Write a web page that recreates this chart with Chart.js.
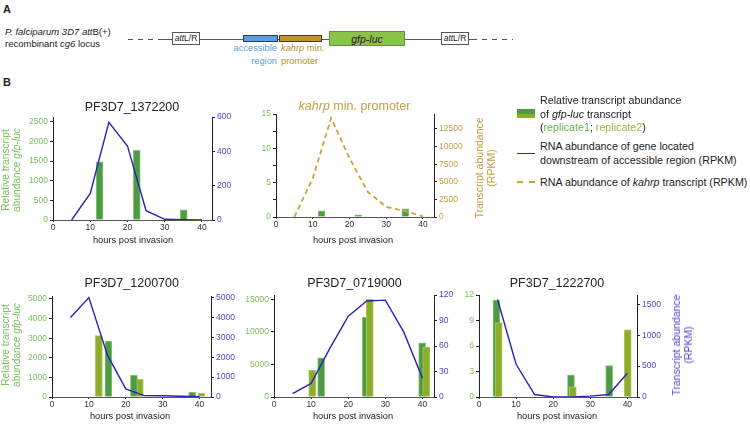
<!DOCTYPE html>
<html><head><meta charset="utf-8">
<script src="https://cdn.jsdelivr.net/npm/chart.js@4.4.0/dist/chart.umd.min.js"></script>
<style>
html,body{margin:0;padding:0;background:#fff}
#fig{position:relative;width:750px;height:424px;overflow:hidden;font-family:"Liberation Sans",Arial,sans-serif;color:#222}
.t{position:absolute;white-space:nowrap;line-height:1}
.bx{position:absolute;box-sizing:border-box}
canvas{position:absolute}
</style></head><body><div id="fig"></div>
<script>
// ---- data ----
const HPI=[5,10,15,20,25,30,35,40];            // RNA-seq time points (hpi)
const X_TICKS=[0,10,20,30,40];

// PF3D7_1372200
const RNA_1372200=[0,155,569,431,54,4,2,0];
const G1X_1372200=[12.5,22.5,35.1], G1_1372200=[1480,1770,260];
const L_TICKS_1372200=[0,500,1000,1500,2000,2500], R_TICKS_1372200=[0,200,400,600];

// kahrp min. promoter
const RNA_KAHRP=[0,5490,14060,8340,3570,1430,860,100];
const G1X_KAHRP=[12.4,22.4,35.2], G1_KAHRP=[0.9,0.3,1.2];
const L_TICKS_KAHRP=[0,2.5,5,7.5,10,12.5,15], L_LABELS_KAHRP=[0,5,10,15];
const R_TICKS_KAHRP=[0,2500,5000,7500,10000,12500];

// PF3D7_1200700
const RNA_1200700=[4000,5000,2120,410,70,60,40,20];
const G1X_1200700=[15.3,22.2,38.0], G1_1200700=[2850,1120,254];
const G2X_1200700=[12.7,23.8,40.5], G2_1200700=[3130,900,205];
const L_TICKS_1200700=[0,1000,2000,3000,4000,5000], R_TICKS_1200700=[0,1000,2000,3000,4000,5000];

// PF3D7_0719000
const RNA_0719000=[4,16,57,95,113,114,76,22];
const G1X_0719000=[12.7,24.7,39.9], G1_0719000=[6000,12270,8320];
const G2X_0719000=[10.3,25.8,41.0], G2_0719000=[4150,15000,7650];
const L_TICKS_0719000=[0,5000,10000,15000], R_TICKS_0719000=[0,30,60,90,120];

// PF3D7_1222700
const RNA_1222700=[1580,530,40,0,2,15,40,385];
const G1X_1222700=[4.7,24.8,35.1], G1_1222700=[11.4,2.6,3.7];
const G2X_1222700=[5.3,25.3,40.1], G2_1222700=[8.75,1.2,7.9];
const L_TICKS_1222700=[0,3,6,9,12], R_TICKS_1222700=[0,500,1000,1500];

// ---- colours ----
const C_REP1="#4f9a46",C_REP2="#8cad2c",C_GTXT="#78bf5c",C_BLUE="#2b22b8",C_BTXT="#5244cf",C_GOLD="#c9a23c",C_GOLDTXT="#c3a046";
const FF='"Liberation Sans",Arial,sans-serif';
const LW=34,RW=36,TP=8,BH=18;
const fig=document.getElementById("fig");

function put(html,x,y,o={}){
  const d=document.createElement("div");d.className="t";d.innerHTML=html;
  d.style.left=x+"px";d.style.top=y+"px";
  const ax=o.a==="l"?"0":o.a==="r"?"-100%":"-50%";
  d.style.transform=`translate(${ax},-50%)`+(o.rot?" rotate(-90deg)":"");
  d.style.fontSize=(o.fs||10)+"px";
  if(o.c)d.style.color=o.c;
  if(o.lh){d.style.lineHeight=o.lh+"px";d.style.textAlign="center"}
  if(o.b)d.style.fontWeight="bold";
  if(o.i)d.style.fontStyle="italic";
  fig.appendChild(d);
}
function box(x,y,w,h,css){const d=document.createElement("div");d.className="bx";
  Object.assign(d.style,{left:x+"px",top:y+"px",width:w+"px",height:h+"px"},css);fig.appendChild(d);}

function panel(p){
  const W=p.R-p.L+LW+RW,H=p.B-p.T+TP+BH;
  const cv=document.createElement("canvas");cv.width=W;cv.height=H;
  cv.style.left=(p.L-LW)+"px";cv.style.top=(p.T-TP)+"px";fig.appendChild(cv);
  const ds=[{type:"line",data:HPI.map((x,i)=>({x,y:p.rna[i]})),yAxisID:"y2",borderColor:p.lc,
    borderWidth:p.dash?1.8:1.4,borderDash:p.dash||[],pointRadius:0,tension:0,order:0}];
  p.bars.forEach(b=>ds.push({type:"bar",data:b.x.map((x,i)=>({x,y:b.y[i]})),yAxisID:"y",
    backgroundColor:b.c,borderColor:b.e,borderWidth:1,barThickness:7,grouped:false,order:b.o}));
  const fnt={size:8.5,family:FF};
  const yax=(pos,max,ticks,labels,col,w)=>({type:"linear",position:pos,min:0,max:max,
    afterBuildTicks:s=>{s.ticks=ticks.map(v=>({value:v}))},
    afterFit:s=>{s.width=w},
    ticks:{color:col,font:fnt,padding:2,autoSkip:false,callback:v=>labels.includes(v)?String(v):""},
    grid:{display:true,drawOnChartArea:false,tickLength:3,color:"#222"},border:{color:"#222",width:1}});
  new Chart(cv,{type:"bar",data:{datasets:ds},options:{
    responsive:false,animation:false,devicePixelRatio:1,
    layout:{padding:{top:TP,left:0,right:0,bottom:0}},
    plugins:{legend:{display:false},tooltip:{enabled:false}},
    scales:{
      x:{type:"linear",min:0,max:p.xmax,offset:false,
        afterBuildTicks:s=>{s.ticks=X_TICKS.map(v=>({value:v}))},afterFit:s=>{s.height=BH},
        ticks:{color:"#333",font:fnt,padding:1,maxRotation:0,autoSkip:false,callback:v=>String(v)},
        grid:{display:true,drawOnChartArea:false,offset:false,tickLength:2,color:"#333"},border:{color:"#555",width:1}},
      y:yax("left",p.ymax,p.lt,p.ll||p.lt,C_GTXT,LW),
      y2:yax("right",p.y2max,p.rt,p.rt,p.rc,RW)
    }}});
}

const rep1=(x,y,o)=>({x,y,c:C_REP1,e:"#8fc777",o:o||2});
const rep2=(x,y,o)=>({x,y,c:C_REP2,e:"#aac75a",o:o||1});

panel({L:53,R:212,T:117,B:220,xmax:42.7,ymax:2620,y2max:600,lt:L_TICKS_1372200,rt:R_TICKS_1372200,rc:C_BTXT,
  rna:RNA_1372200,lc:C_BLUE,bars:[rep1(G1X_1372200,G1_1372200)]});
panel({L:276,R:434,T:114,B:217,xmax:43.0,ymax:15,y2max:14630,lt:L_TICKS_KAHRP,ll:L_LABELS_KAHRP,rt:R_TICKS_KAHRP,rc:C_GOLDTXT,
  rna:RNA_KAHRP,lc:C_GOLD,dash:[5,3.5],bars:[rep1(G1X_KAHRP,G1_KAHRP)]});
panel({L:52,R:211,T:296,B:397,xmax:43.1,ymax:5150,y2max:5080,lt:L_TICKS_1200700,rt:R_TICKS_1200700,rc:C_BTXT,
  rna:RNA_1200700,lc:C_BLUE,bars:[rep1(G1X_1200700,G1_1200700,1),rep2(G2X_1200700,G2_1200700,2)]});
panel({L:274,R:434,T:295,B:397,xmax:43.1,ymax:15660,y2max:120,lt:L_TICKS_0719000,rt:R_TICKS_0719000,rc:C_BTXT,
  rna:RNA_0719000,lc:C_BLUE,bars:[rep1(G1X_0719000,G1_0719000),rep2(G2X_0719000,G2_0719000)]});
panel({L:479,R:637,T:295,B:397,xmax:42.6,ymax:12,y2max:1653,lt:L_TICKS_1222700,rt:R_TICKS_1222700,rc:C_BTXT,
  rna:RNA_1222700,lc:C_BLUE,bars:[rep1(G1X_1222700,G1_1222700),rep2(G2X_1222700,G2_1222700)]});

// ---- panel A: locus schematic ----
put("A",3,8.5,{a:"l",b:true,fs:11});
put("B",3,82,{a:"l",b:true,fs:11});
put("<i>P. falciparum 3D7 att</i>B(+)",5,32.3,{a:"l",fs:9.5});
put("recombinant <i>cg6</i> locus",5,44.3,{a:"l",fs:9.5});
box(128,38.5,34,1,{background:"repeating-linear-gradient(90deg,#555 0 5px,transparent 5px 10px)"});
box(162,38.5,310,1,{background:"#555"});
box(472,38.5,41,1,{background:"repeating-linear-gradient(90deg,#555 0 5px,transparent 5px 10px)"});
box(172,32,28,12.5,{background:"#fff",border:"1px solid #555"});
box(441,32,28,12.5,{background:"#fff",border:"1px solid #555"});
put("<i>att</i>L/R",186,38.3,{fs:8.5});
put("<i>att</i>L/R",455,38.3,{fs:8.5});
box(243,35,35,7,{background:"#5aa0e0",border:"1px solid #2d3f55"});
box(279,35,43,7,{background:"#bf9430",border:"1px solid #4f3c12"});
box(329,31,76,15,{background:"#8bc34a",border:"1px solid #4aa03a"});
put("<i>gfp-luc</i>",367,38.5,{fs:10.5});
put("accessible",277,49.3,{a:"r",fs:9.3,c:"#5aa0e0"});
put("region",277,61.7,{a:"r",fs:9.3,c:"#5aa0e0"});
put("<i>kahrp</i> min.",281,49.3,{a:"l",fs:9.3,c:"#b8922e"});
put("promoter",281,61.7,{a:"l",fs:9.3,c:"#b8922e"});

// ---- titles ----
put("PF3D7_1372200",132,107,{fs:12.5});
put("<i>kahrp</i> min. promoter",354.5,106,{fs:12.5,c:C_GOLDTXT});
put("PF3D7_1200700",131.7,283,{fs:12.5});
put("PF3D7_0719000",354.5,283,{fs:12.5});
put("PF3D7_1222700",557,283,{fs:12.5});
[[133,241],[353,241],[130,417.3],[353,417.3],[557,417.3]].forEach(([x,y])=>put("hours post invasion",x,y,{fs:9.3}));
put("Relative transcript<br>abundance <i>gfp-luc</i>",11.3,170,{rot:true,lh:10.5,fs:10.2,c:C_GTXT});
put("Relative transcript<br>abundance <i>gfp-luc</i>",11.3,345,{rot:true,lh:10.5,fs:10.2,c:C_GTXT});
put("Transcript abundance<br>(RPKM)",484.5,168,{rot:true,lh:12,fs:10.5,c:C_GOLDTXT});
put("Transcript abundance<br>(RPKM)",682,345,{rot:true,lh:12,fs:10.5,c:C_BTXT});

// ---- legend ----
box(517,109.3,18,4.7,{background:C_REP1});
box(517,114,18,4.3,{background:C_REP2});
box(517,152.5,18,1.4,{background:C_BLUE});
box(517,181.3,6,2,{background:C_GOLD});
box(529,181.3,6,2,{background:C_GOLD});
const LF=10.7;
put("Relative transcript abundance",540,100,{a:"l",fs:LF});
put("of <i>gfp-luc</i> transcript",540,113.5,{a:"l",fs:LF});
put(`(<span style="color:#62b44c">replicate1</span>; <span style="color:#9cb93c">replicate2</span>)`,540,126.7,{a:"l",fs:LF});
put("RNA abundance of gene located",540,146,{a:"l",fs:LF});
put("downstream of accessible region (RPKM)",540,160,{a:"l",fs:LF});
put("RNA abundance of <i>kahrp</i> transcript (RPKM)",540,182.3,{a:"l",fs:LF});
</script></body></html>
